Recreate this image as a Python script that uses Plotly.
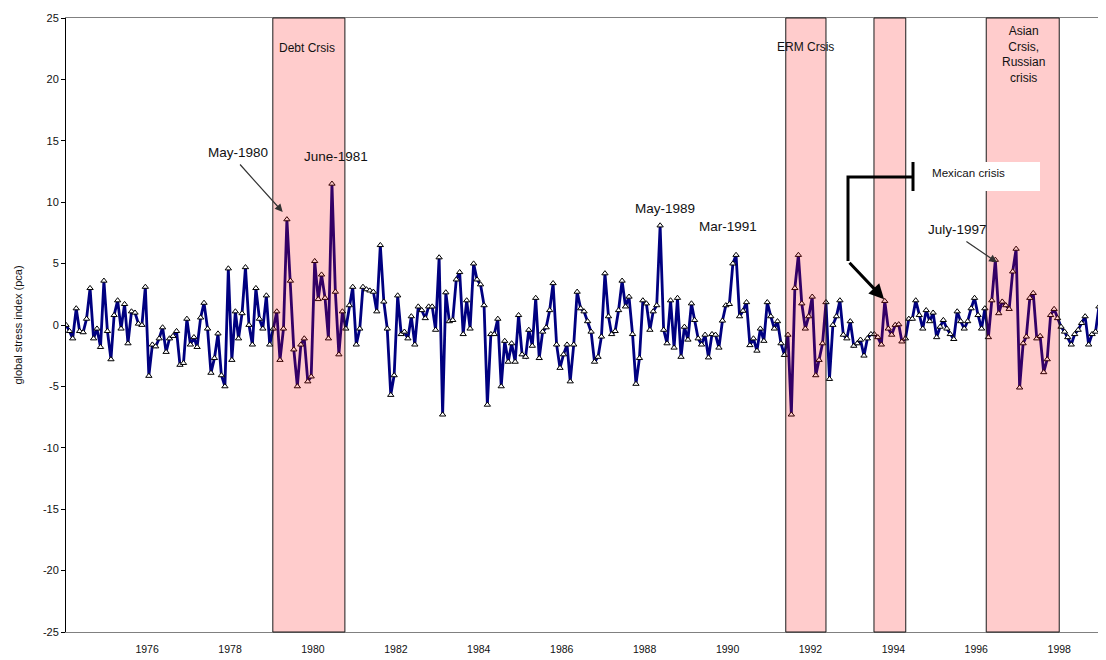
import pandas as pd
import plotly.graph_objects as go

# monthly global stress index (pca), starting January 1974
start_month = "1974-01-01"
stress_index = [
    0.0, -0.5, -1.1, 1.35, -0.5, -0.6, 0.5, 3.0, -1.1, -0.3,
    -1.8, 3.6, -0.5, -2.8, 0.8, 2.0, -0.3, 1.7, -1.5, 1.1,
    1.0, 0.1, 0.0, 3.1, -4.15, -1.6, -1.75, -1.1, -0.2, -2.2,
    -1.1, -0.9, -0.5, -3.25, -3.1, 0.5, -1.6, -1.0, -1.8, 0.6,
    1.8, -0.3, -3.9, -2.7, -0.7, -4.1, -5.0, 4.6, -2.85, 1.1,
    -1.1, 0.95, 4.7, 0.0, -1.6, 3.0, 0.5, -0.3, 2.4, -1.6,
    -0.3, 1.1, -2.85, -0.3, 8.6, 3.6, -2.0, -5.0, -1.6, -1.1,
    -4.6, -4.2, 5.2, 2.1, 4.1, 2.2, -1.1, 11.5, 2.7, -2.4,
    1.1, -0.3, 1.6, 3.1, -1.6, -0.3, 3.1, 2.9, 2.8, 2.7,
    1.1, 6.5, 1.9, -0.3, -5.7, -4.1, 2.4, -0.75, -0.55, -1.1,
    0.7, -1.6, 1.5, 1.2, 0.55, 1.5, 1.5, -0.4, 5.5, -7.3,
    2.65, 0.3, 0.4, 3.7, 4.3, -0.75, 2.0, -0.3, 5.0, 3.7,
    3.3, 1.6, -6.5, -0.75, -0.75, 0.5, -5.0, -1.3, -3.0, -1.5,
    -3.0, 0.8, -2.4, -2.6, -0.4, -1.7, 2.2, -2.7, -0.55, -0.2,
    1.2, 3.4, -1.6, -3.5, -2.4, -1.6, -4.6, -1.6, 2.7, 1.35,
    1.1, 0.3, -0.55, -3.0, -2.6, -0.95, 4.2, 0.7, -0.75, -0.5,
    1.2, 3.6, 1.5, 2.3, -0.75, -4.8, -2.7, 2.0, 1.75, -0.4,
    1.1, 1.6, 8.1, -0.4, -1.5, 2.0, -1.85, 2.2, -2.6, -0.15,
    -1.2, 1.75, 0.4, -1.1, -1.6, -0.8, -2.65, -0.75, -0.8, -1.85,
    0.35, 1.6, 1.7, 5.0, 5.7, 0.7, 1.15, 1.85, -1.65, -1.1,
    -2.1, -0.3, -1.3, 1.85, 0.7, -0.3, 0.3, -1.5, -2.45, -0.8,
    -7.3, 3.0, 5.7, 1.75, -0.3, 0.7, 2.3, -4.1, -2.85, -1.5,
    1.85, -4.4, 0.0, 0.7, 2.0, -0.8, -1.1, 0.3, -1.7, -1.5,
    -1.2, -2.5, -1.1, -0.75, -0.75, -1.0, -1.6, 1.95, -0.3, -0.8,
    0.0, 0.05, -1.35, -1.1, 0.5, 0.5, 2.0, 0.8, -0.3, 1.2,
    0.3, 1.0, -1.0, -0.15, 0.4, -0.3, -0.75, -1.15, 1.1, 0.3,
    -0.3, 0.3, 1.35, 2.2, 0.8, -0.3, 1.35, -1.0, 2.0, 5.3,
    0.95, 1.9, 1.6, 1.3, 4.35, 6.2, -5.1, -1.5, -0.95, 2.2,
    2.6, -1.1, -0.9, -3.85, -2.8, 0.8, 1.3, 0.55, -0.15, -0.55,
    -1.0, -1.6, -0.75, -0.4, 0.15, 0.7, -1.6, -0.75, -0.55, 1.5,
    0.8, -1.9,
]

# shaded crisis windows
crisis_labels = ["Debt Crsis", "ERM Crsis", "", "Asian<br>Crsis,<br>Russian<br>crisis"]
crisis_start = ["1978-12-28", "1991-05-13", "1993-06-28", "1996-03-13"]
crisis_end = ["1980-09-23", "1992-05-01", "1994-04-04", "1997-12-16"]

# labelled peaks: text, arrow target date, arrow target value
peak_texts = ["May-1980", "July-1997"]
peak_dates = ["1979-03-25", "1996-06-15"]
peak_values = [9.2, 5.1]

year_labels = list(range(1976, 1999, 2))
year_ticks = list(range(1975, 2000))
y_ticks = list(range(-25, 26, 5))

FONT = "Liberation Sans, Arial, sans-serif"

# the page body adds an 8px margin, so the figure is 8px smaller
PAGE_OFFSET = 8

months = pd.date_range(start_month, periods=len(stress_index), freq="MS")
x_range = [months[0], months[-1]]

fig = go.Figure()
fig.add_trace(go.Scatter(
    x=months,
    y=stress_index,
    mode="lines+markers",
    line=dict(color="#000080", width=2.8),
    marker=dict(symbol="triangle-up", size=5.5, color="white",
                line=dict(color="black", width=1)),
    showlegend=False,
))

shapes = []
for x0, x1 in zip(crisis_start, crisis_end):
    shapes.append(dict(
        type="rect", xref="x", yref="paper", x0=x0, x1=x1, y0=0, y1=1,
        fillcolor="rgba(255,0,0,0.2)", line=dict(color="#1a1a1a", width=1),
        layer="above",
    ))


def px(x, y):
    # pixel position in the page -> paper coordinates of the plot area
    return (x - 66) / 1040, (632 - y) / 614


# Mexican crisis bracket, white label box and elbow line
bx0, by0 = px(917, 162)
bx1, by1 = px(1040, 191)
shapes.append(dict(type="rect", xref="paper", yref="paper", x0=bx0, x1=bx1,
                   y0=by1, y1=by0, fillcolor="white", line=dict(width=0),
                   layer="above"))
p1, p2, p3 = px(913, 177), px(848, 177), px(848, 261)
shapes.append(dict(type="path", xref="paper", yref="paper",
                   path=f"M {p1[0]},{p1[1]} L {p2[0]},{p2[1]} L {p3[0]},{p3[1]}",
                   line=dict(color="black", width=3), layer="above"))
q1, q2 = px(913, 162), px(913, 191)
shapes.append(dict(type="line", xref="paper", yref="paper", x0=q1[0], y0=q1[1],
                   x1=q2[0], y1=q2[1], line=dict(color="black", width=3),
                   layer="above"))

annotations = []
label_pos = [(307, 48), (805, 47), None, (1023, 54)]
for text, pos in zip(crisis_labels, label_pos):
    if pos is None:
        continue
    ax_, ay_ = px(*pos)
    annotations.append(dict(xref="paper", yref="paper", x=ax_, y=ay_, text=text,
                            showarrow=False, font=dict(size=12, color="#111"),
                            xanchor="center", yanchor="middle"))

text_pos = {
    "May-1980": (238, 152),
    "June-1981": (336, 156),
    "May-1989": (665, 208),
    "Mar-1991": (728, 226),
    "July-1997": (957, 229),
}
for text, pos in text_pos.items():
    ax_, ay_ = px(*pos)
    annotations.append(dict(xref="paper", yref="paper", x=ax_, y=ay_, text=text,
                            showarrow=False, font=dict(size=13.5, color="#111"),
                            xanchor="center", yanchor="middle"))

arrow_tails = [(-44, -49), (-32, -22)]
for d, v, (tx, ty) in zip(peak_dates, peak_values, arrow_tails):
    annotations.append(dict(xref="x", yref="y", x=d, y=v, text="", showarrow=True,
                            ax=tx, ay=ty, arrowhead=2, arrowsize=1.3,
                            arrowwidth=1.2, arrowcolor="#333"))

mx, my = px(930, 172)
annotations.append(dict(xref="paper", yref="paper", x=mx, y=my, text="Mexican crisis",
                        showarrow=False, font=dict(size=11.6, color="#111"),
                        xanchor="left", yanchor="middle"))
annotations.append(dict(xref="x", yref="y", x="1993-09-25", y=2.1, text="",
                        showarrow=True, ax=-36, ay=-38, arrowhead=2, arrowsize=1,
                        arrowwidth=3, arrowcolor="black"))

fig.update_layout(
    width=1106 - PAGE_OFFSET,
    height=660 - PAGE_OFFSET,
    margin=dict(l=66 - PAGE_OFFSET, r=0, t=18 - PAGE_OFFSET, b=28),
    plot_bgcolor="white",
    paper_bgcolor="white",
    font=dict(family=FONT, size=11, color="#111"),
    shapes=shapes,
    annotations=annotations,
    xaxis=dict(
        type="date", range=x_range, showgrid=False, zeroline=False,
        showline=True, mirror=True, linecolor="#808080", linewidth=1,
        tickvals=[f"{y - 1}-12-16" for y in year_labels],
        ticktext=[str(y) for y in year_labels],
        ticks="outside", ticklen=7, tickcolor="rgba(0,0,0,0)",
        tickfont=dict(size=10.5),
    ),
    xaxis2=dict(
        type="date", range=x_range, overlaying="x", anchor="free", position=0.5,
        showgrid=False, zeroline=False, showline=True, linecolor="black",
        linewidth=1, tickvals=[f"{y - 1}-12-16" for y in year_ticks],
        showticklabels=False, ticks="outside", ticklen=3, tickcolor="black",
        layer="below traces",
    ),
    yaxis=dict(
        range=[-25, 25], tickvals=y_ticks, ticktext=[str(v) for v in y_ticks],
        showgrid=False, zeroline=False,
        showline=True, linecolor="black", linewidth=1,
        ticks="outside", ticklen=4, tickcolor="black",
        tickfont=dict(size=11),
        title=dict(text="global stress index (pca)", font=dict(size=11), standoff=18),
    ),
)

fig.write_html("out.html")
